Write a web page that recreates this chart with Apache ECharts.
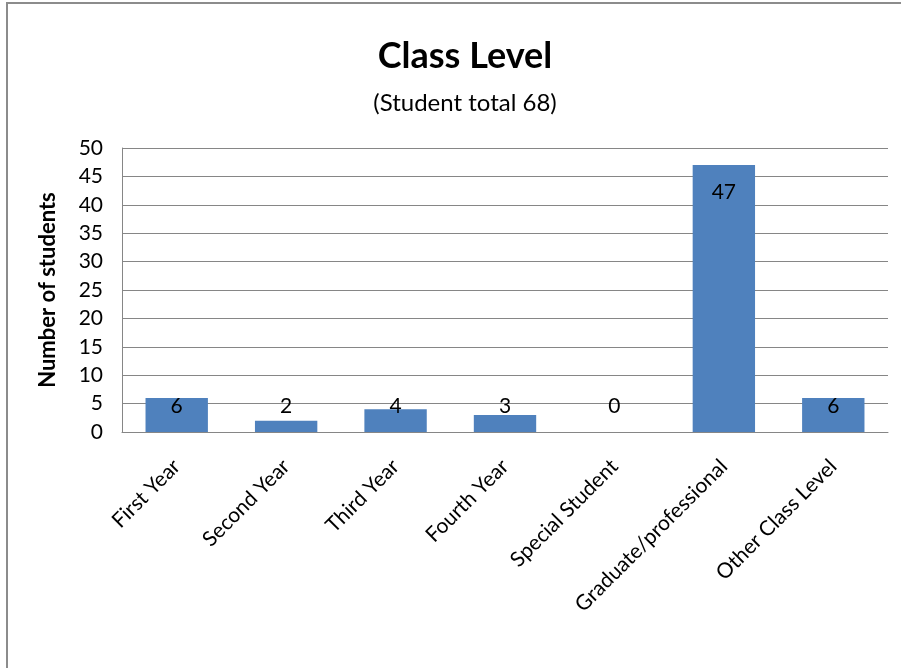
<!DOCTYPE html>
<html>
<head>
<meta charset="utf-8">
<script src="https://cdn.jsdelivr.net/npm/echarts@6/dist/echarts.min.js"></script>
<style>
  html, body { margin: 0; padding: 0; background: #fff; }
  #chart { width: 901px; height: 668px; }
</style>
</head>
<body>
<div id="chart"></div>
<script>
// class level counts
const categories = ['First Year', 'Second Year', 'Third Year', 'Fourth Year', 'Special Student', 'Graduate/professional', 'Other Class Level']
const students = [6, 2, 4, 3, 0, 47, 6]
const yTicks = [0, 5, 10, 15, 20, 25, 30, 35, 40, 45, 50]

const font = 'Lato, "Open Sans", sans-serif'

// big bars get the label inside the top, short ones sit just above the axis
const barData = students.map(v => ({
  value: v,
  label: v > 10
    ? { position: 'insideTop', distance: 17 }
    : { position: 'insideBottom', distance: 15 }
}))

const chart = echarts.init(document.getElementById('chart'), null, { renderer: 'canvas' })

chart.setOption({
  animation: false,
  backgroundColor: '#fff',
  title: [{
    text: 'Class Level',
    left: 460,
    top: 33,
    textAlign: 'center',
    textStyle: { fontFamily: font, fontSize: 36, fontWeight: 'bold', color: '#000' }
  }, {
    text: '(Student total 68)',
    left: 460,
    top: 86,
    textAlign: 'center',
    textStyle: { fontFamily: font, fontSize: 24, fontWeight: 'normal', color: '#000' }
  }],
  // outer chart frame, only left and top edges are visible in the crop
  graphic: [{
    type: 'polyline',
    shape: { points: [[7, 700], [7, 3], [920, 3]] },
    style: { fill: null, stroke: '#8c8c8c', lineWidth: 2 },
    silent: true
  }],
  grid: { left: 122, right: 13, top: 148, bottom: 236, containLabel: false },
  xAxis: {
    type: 'category',
    data: categories,
    axisLine: { lineStyle: { color: '#868686', width: 1 } },
    axisTick: { show: false },
    axisLabel: {
      rotate: 45,
      interval: 0,
      margin: 31,
      fontFamily: font,
      fontSize: 21,
      color: '#000'
    }
  },
  yAxis: {
    type: 'value',
    min: 0,
    max: yTicks[yTicks.length - 1],
    interval: 5,
    name: 'Number of students',
    nameLocation: 'middle',
    nameGap: 63,
    nameTextStyle: { fontFamily: font, fontSize: 22, fontWeight: 'bold', color: '#000' },
    axisLine: { show: true, lineStyle: { color: '#868686', width: 1 } },
    axisTick: { show: false },
    splitLine: { lineStyle: { color: '#868686', width: 1 } },
    axisLabel: {
      margin: 19,
      fontFamily: font,
      fontSize: 21,
      color: '#000'
    }
  },
  series: [{
    type: 'bar',
    data: barData,
    barWidth: '57%',
    itemStyle: { color: '#4F81BD' },
    label: {
      show: true,
      fontFamily: font,
      fontSize: 21,
      color: '#000'
    }
  }]
})
</script>
</body>
</html>
